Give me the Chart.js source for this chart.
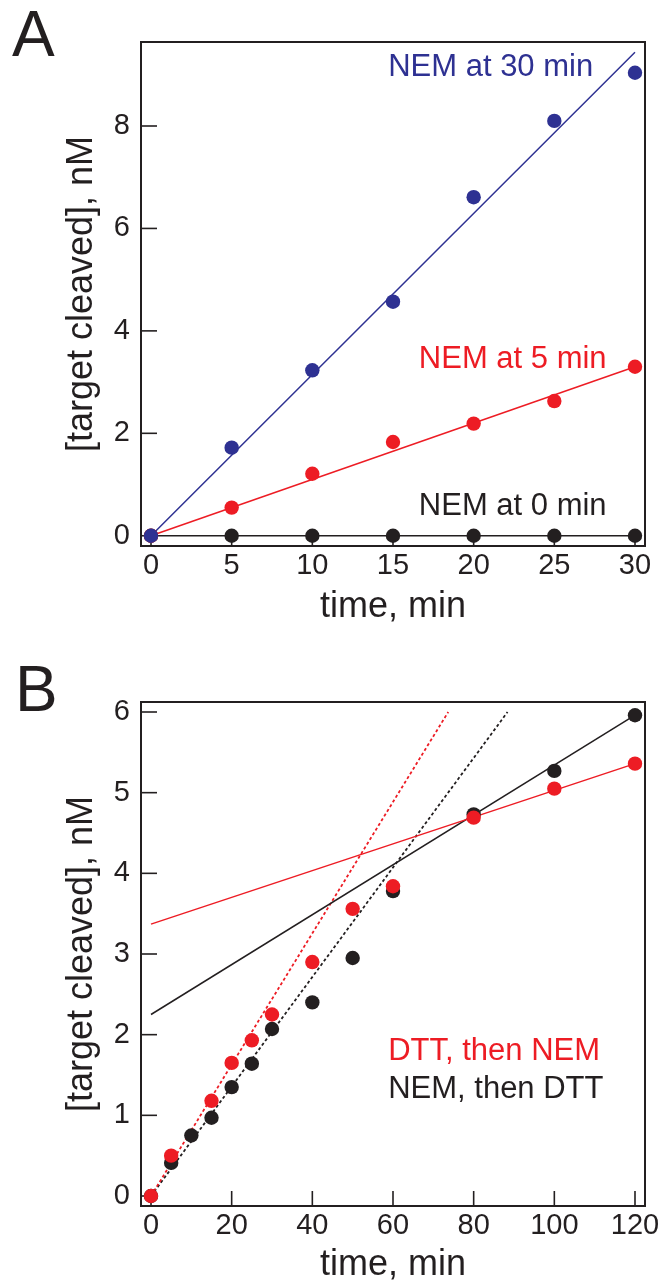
<!DOCTYPE html>
<html>
<head>
<meta charset="utf-8">
<script src="https://cdn.jsdelivr.net/npm/chart.js@4.4.0/dist/chart.umd.min.js"></script>
<style>
  body { margin: 0; background: #fff; }
  canvas { position: absolute; left: 0; }
  #chartA { top: 0; }
  #chartB { top: 645px; }
</style>
</head>
<body>
<canvas id="chartA" width="660" height="645"></canvas>
<canvas id="chartB" width="660" height="642"></canvas>
<script>
// --- panel A: NEM added at different times ---
const timeA = [0, 5, 10, 15, 20, 25, 30];
const nem30 = [0, 1.72, 3.23, 4.57, 6.61, 8.10, 9.04];
const nem5 = [0, 0.55, 1.21, 1.83, 2.19, 2.63, 3.30];
const nem0 = [0, 0, 0, 0, 0, 0, 0];
const fitTimeA = [0, 30];
const fitNem30 = [0, 9.44];
const fitNem5 = [0, 3.30];
const fitNem0 = [0, 0];
const ticksXA = [0, 5, 10, 15, 20, 25, 30];
const ticksYA = [0, 2, 4, 6, 8];

// --- panel B: DTT / NEM order ---
const timeB = [0, 5, 10, 15, 20, 25, 30, 40, 50, 60, 80, 100, 120];
const dttThenNem = [0, 0.50, null, 1.18, 1.65, 1.93, 2.25, 2.90, 3.56, 3.84, 4.69, 5.05, 5.36];
const nemThenDtt = [0, 0.41, 0.75, 0.97, 1.35, 1.64, 2.07, 2.40, 2.95, 3.78, 4.73, 5.27, 5.96];
// early phase fits (dotted)
const earlyTimeRed = [0, 73.7];
const earlyRed = [0, 6.0];
const earlyTimeBlack = [0, 88.4];
const earlyBlack = [0, 6.0];
// late phase fits (solid)
const lateTime = [0, 120];
const lateRed = [3.37, 5.36];
const lateBlack = [2.25, 5.96];
const ticksXB = [0, 20, 40, 60, 80, 100, 120];
const ticksYB = [0, 1, 2, 3, 4, 5, 6];

const BLUE = '#2e3192';
const RED = '#ed1c24';
const INK = '#231f20';
const FONT = "'Liberation Sans', Arial, Helvetica, sans-serif";

Chart.defaults.font.family = FONT;
Chart.defaults.color = INK;

function pts(xs, ys) {
    return xs.map((x, i) => ({ x: x, y: ys[i] })).filter(p => p.y !== null);
}

function dots(xs, ys, color, order) {
    return {
        type: 'scatter', data: pts(xs, ys), order: order,
        backgroundColor: color, borderColor: color, borderWidth: 0,
        pointRadius: 7.2, pointHoverRadius: 7.2, showLine: false, clip: false
    };
}

function fitLine(xs, ys, color, dash, order) {
    return {
        type: 'line', data: pts(xs, ys), order: order,
        borderColor: color, borderWidth: dash ? 1.8 : 1.5, borderDash: dash || [],
        pointRadius: 0, fill: false, tension: 0, clip: false
    };
}

// frame round the plot area and inward tick marks
const frameTicks = {
    id: 'frameTicks',
    beforeDatasetsDraw(chart) {
        const { ctx, chartArea: a, scales } = chart;
        ctx.save();
        ctx.strokeStyle = INK;
        ctx.lineWidth = 1.6;
        scales.x.ticks.forEach(t => {
            const px = scales.x.getPixelForValue(t.value);
            ctx.beginPath();
            ctx.moveTo(px, a.bottom);
            ctx.lineTo(px, a.bottom - 15);
            ctx.stroke();
        });
        scales.y.ticks.forEach(t => {
            const py = scales.y.getPixelForValue(t.value);
            ctx.beginPath();
            ctx.moveTo(a.left, py);
            ctx.lineTo(a.left + 16, py);
            ctx.stroke();
        });
        ctx.lineWidth = 2;
        ctx.strokeRect(a.left, a.top, a.right - a.left, a.bottom - a.top);
        ctx.restore();
    }
};

// in-plot labels (data coordinates) and the panel letter
const notes = {
    id: 'notes',
    afterDatasetsDraw(chart, args, opts) {
        const { ctx, scales } = chart;
        ctx.save();
        ctx.textAlign = 'left';
        ctx.textBaseline = 'alphabetic';
        ctx.font = '31px ' + FONT;
        (opts.labels || []).forEach(l => {
            ctx.fillStyle = l.color;
            ctx.fillText(l.text, scales.x.getPixelForValue(l.x), scales.y.getPixelForValue(l.y));
        });
        ctx.fillStyle = INK;
        ctx.font = '64px ' + FONT;
        ctx.fillText(opts.letter.text, opts.letter.left, opts.letter.baseline);
        ctx.restore();
    }
};

function makeChart(id, cfg) {
    const H = document.getElementById(id).height;
    return new Chart(document.getElementById(id), {
        data: { datasets: cfg.datasets },
        options: {
            responsive: false,
            devicePixelRatio: 1,
            animation: false,
            events: [],
            layout: { padding: { left: 0, top: cfg.top, right: 15, bottom: 0 } },
            plugins: {
                legend: { display: false },
                tooltip: { enabled: false },
                notes: { labels: cfg.labels, letter: cfg.letter }
            },
            scales: {
                x: {
                    type: 'linear', min: cfg.xMin, max: cfg.xMax,
                    grid: { display: false, drawTicks: false },
                    border: { display: false },
                    afterBuildTicks: s => { s.ticks = cfg.ticksX.map(v => ({ value: v })); },
                    afterFit: s => { s.height = H - cfg.bottom; s.paddingLeft = 0; s.paddingRight = 0; },
                    ticks: { font: { size: 29 }, padding: 3, maxRotation: 0, autoSkip: false },
                    title: {
                        display: true, text: 'time, min',
                        font: { size: 36, lineHeight: 1.2 },
                        padding: { top: 0, bottom: cfg.titleGapX }
                    }
                },
                y: {
                    type: 'linear', min: cfg.yMin, max: cfg.yMax,
                    grid: { display: false, drawTicks: false },
                    border: { display: false },
                    afterBuildTicks: s => { s.ticks = cfg.ticksY.map(v => ({ value: v })); },
                    afterFit: s => { s.width = 141; s.paddingTop = 0; s.paddingBottom = 0; },
                    ticks: { font: { size: 29 }, padding: 11, autoSkip: false },
                    title: {
                        display: true, text: '[target cleaved], nM',
                        font: { size: 36, lineHeight: 1.2 },
                        padding: { top: 60, bottom: 0 }
                    }
                }
            }
        },
        plugins: [frameTicks, notes]
    });
}

makeChart('chartA', {
    top: 42, bottom: 546, titleGapX: 16,
    xMin: -0.62, xMax: 30.62, yMin: -0.2, yMax: 9.64,
    ticksX: ticksXA, ticksY: ticksYA,
    datasets: [
        dots(timeA, nem30, BLUE, 1),
        dots(timeA, nem5, RED, 2),
        dots(timeA, nem0, INK, 3),
        fitLine(fitTimeA, fitNem30, BLUE, null, 4),
        fitLine(fitTimeA, fitNem5, RED, null, 5),
        fitLine(fitTimeA, fitNem0, INK, null, 6)
    ],
    labels: [
        { text: 'NEM at 30 min', x: 14.7, y: 8.98, color: BLUE },
        { text: 'NEM at 5 min', x: 16.6, y: 3.28, color: RED },
        { text: 'NEM at 0 min', x: 16.6, y: 0.41, color: INK }
    ],
    letter: { text: 'A', left: 12, baseline: 56 }
});

makeChart('chartB', {
    top: 57, bottom: 561, titleGapX: 0,
    xMin: -2.48, xMax: 122.48, yMin: -0.124, yMax: 6.124,
    ticksX: ticksXB, ticksY: ticksYB,
    datasets: [
        dots(timeB, dttThenNem, RED, 1),
        dots(timeB, nemThenDtt, INK, 2),
        fitLine(lateTime, lateRed, RED, null, 3),
        fitLine(lateTime, lateBlack, INK, null, 4),
        fitLine(earlyTimeRed, earlyRed, RED, [3, 2.5], 5),
        fitLine(earlyTimeBlack, earlyBlack, INK, [3, 2.5], 6)
    ],
    labels: [
        { text: 'DTT, then NEM', x: 58.8, y: 1.68, color: RED },
        { text: 'NEM, then DTT', x: 58.8, y: 1.215, color: INK }
    ],
    letter: { text: 'B', left: 15, baseline: 66 }
});
</script>
</body>
</html>
